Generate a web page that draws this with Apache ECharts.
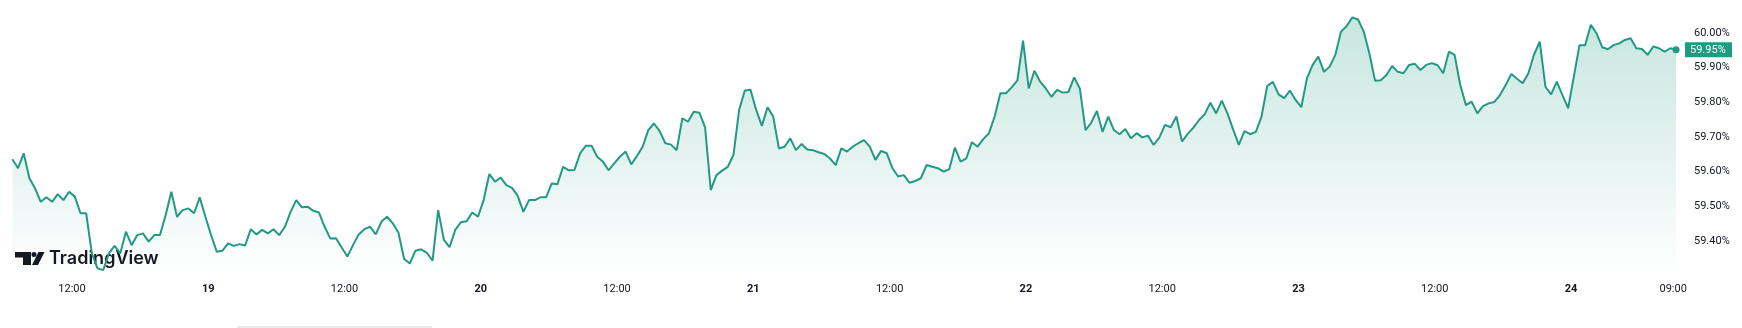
<!DOCTYPE html>
<html><head><meta charset="utf-8">
<script src="https://cdn.jsdelivr.net/npm/echarts@6/dist/echarts.min.js"></script>
<style>html,body{margin:0;padding:0;background:#fff;}#c{width:1742px;height:328px;}</style>
</head><body><div id="c"></div>
<script>
// hours counted from the 18th, 00:00
const firstDay = 18;
const startHour = 6.75;
const stepHours = 0.5;
const values = [
59.636,59.610,59.653,59.581,59.552,59.513,59.526,59.513,59.535,59.518,
59.542,59.528,59.480,59.480,59.364,59.321,59.316,59.364,59.386,59.364,
59.427,59.388,59.417,59.422,59.398,59.417,59.417,59.475,59.542,59.470,
59.489,59.494,59.480,59.526,59.470,59.417,59.369,59.372,59.393,59.386,
59.391,59.387,59.434,59.419,59.432,59.422,59.434,59.417,59.441,59.484,
59.518,59.497,59.499,59.487,59.482,59.441,59.407,59.408,59.381,59.355,
59.388,59.419,59.434,59.441,59.419,59.456,59.470,59.451,59.424,59.348,
59.335,59.372,59.376,59.366,59.343,59.489,59.403,59.382,59.432,59.454,
59.457,59.482,59.470,59.518,59.593,59.571,59.583,59.561,59.553,59.530,
59.484,59.518,59.518,59.526,59.526,59.566,59.564,59.614,59.604,59.605,
59.653,59.675,59.675,59.643,59.629,59.604,59.624,59.643,59.658,59.621,
59.645,59.672,59.720,59.739,59.717,59.682,59.678,59.662,59.754,59.744,
59.773,59.770,59.728,59.547,59.590,59.603,59.614,59.648,59.778,59.834,
59.836,59.778,59.732,59.786,59.759,59.667,59.672,59.696,59.662,59.680,
59.664,59.662,59.656,59.651,59.638,59.619,59.667,59.658,59.672,59.682,
59.691,59.672,59.634,59.660,59.653,59.610,59.586,59.590,59.568,59.573,
59.581,59.619,59.614,59.610,59.600,59.607,59.669,59.629,59.638,59.685,
59.672,59.694,59.711,59.759,59.826,59.826,59.843,59.863,59.978,59.840,
59.891,59.860,59.840,59.816,59.836,59.828,59.830,59.872,59.840,59.720,
59.741,59.775,59.715,59.759,59.720,59.708,59.723,59.696,59.711,59.699,
59.704,59.677,59.698,59.735,59.728,59.759,59.687,59.709,59.727,59.749,
59.766,59.799,59.768,59.805,59.768,59.722,59.677,59.717,59.708,59.715,
59.759,59.847,59.859,59.823,59.812,59.834,59.807,59.786,59.869,59.908,
59.932,59.888,59.903,59.937,60.004,60.020,60.045,60.039,60.004,59.941,
59.862,59.864,59.879,59.905,59.888,59.884,59.908,59.911,59.893,59.908,
59.913,59.907,59.884,59.946,59.937,59.850,59.792,59.802,59.768,59.789,
59.797,59.801,59.821,59.850,59.882,59.868,59.855,59.884,59.938,59.975,
59.845,59.823,59.860,59.821,59.783,59.874,59.965,59.965,60.024,59.999,
59.959,59.953,59.965,59.970,59.980,59.985,59.956,59.954,59.937,59.961,
59.956,59.946,59.956,59.952
];
const xTickHours = [12,24,36,48,60,72,84,96,108,120,132,144,153];
const yTickValues = [59.4,59.5,59.6,59.7,59.8,59.9,60.0];

const lineColor = '#229a82';
const data = values.map((v, i) => [startHour + i * stepHours, v]);
const last = data[data.length - 1];
const xMin = 5.662, xMax = 154.04;

const chart = echarts.init(document.getElementById('c'), null, {renderer: 'canvas'});
const staticGraphics = [
  {type: 'rect', shape: {x: 15, y: 252, width: 16, height: 5.5}, style: {fill: '#131722'}},
  {type: 'rect', shape: {x: 23, y: 252, width: 8, height: 13}, style: {fill: '#131722'}},
  {type: 'circle', shape: {cx: 34, cy: 254.4, r: 2.5}, style: {fill: '#131722'}},
  {type: 'polygon', shape: {points: [[38.5, 252], [44.5, 252], [38, 265], [32, 265]]}, style: {fill: '#131722'}},
  {type: 'text', style: {x: 49, y: 259, text: 'TradingView', font: '600 18px Inter', fill: '#131722', verticalAlign: 'middle'}},
  {type: 'rect', shape: {x: 237, y: 326, width: 195, height: 2}, style: {fill: '#e9e9e9'}}
];
chart.setOption({
  animation: false,
  backgroundColor: '#ffffff',
  grid: {left: 0, right: 57, top: 0, bottom: 52, containLabel: false},
  xAxis: {
    type: 'value', min: xMin, max: xMax,
    axisLine: {show: false}, axisTick: {show: false}, splitLine: {show: false},
    axisLabel: {
      customValues: xTickHours, margin: 8, fontSize: 11, color: '#131722',
      fontFamily: 'Roboto',
      formatter: function (h) {
        const hh = h % 24;
        if (hh === 0) return '{b|' + (firstDay + h / 24) + '}';
        return (hh < 10 ? '0' : '') + hh + ':00';
      },
      rich: {b: {fontWeight: 'bold', fontSize: 11, color: '#131722', fontFamily: 'Roboto'}}
    }
  },
  yAxis: {
    type: 'value', position: 'right', min: 59.299, max: 60.0952,
    axisLine: {show: false}, axisTick: {show: false}, splitLine: {show: false},
    axisLabel: {
      customValues: yTickValues, margin: 9, fontSize: 11, color: '#131722',
      fontFamily: 'Roboto',
      formatter: v => v.toFixed(2) + '%'
    }
  },
  series: [{
    type: 'line', data: data, showSymbol: false, smooth: false,
    lineStyle: {color: lineColor, width: 2},
    areaStyle: {
      origin: 'start',
      color: new echarts.graphic.LinearGradient(0, 0, 0, 1, [
        {offset: 0, color: 'rgba(34,154,130,0.36)'},
        {offset: 1, color: 'rgba(34,154,130,0.0)'}
      ])
    },
    markPoint: {
      silent: true, symbol: 'circle', symbolSize: 7,
      itemStyle: {color: lineColor},
      label: {show: false},
      data: [{coord: last}]
    }
  }],
  graphic: staticGraphics
});
// price tag on the right scale, placed through the chart's own scales
const edge = chart.convertToPixel({xAxisIndex: 0, yAxisIndex: 0}, [xMax, last[1]]);
chart.setOption({
  graphic: staticGraphics.concat([
    {type: 'rect', shape: {x: edge[0], y: edge[1] - 7.5, width: 47, height: 15}, style: {fill: lineColor}, z: 100},
    {type: 'text', style: {x: edge[0] + 5, y: edge[1] + 0.5, text: last[1].toFixed(2) + '%', font: '11px Roboto', fill: '#ffffff', verticalAlign: 'middle'}, z: 101}
  ])
});
</script></body></html>
